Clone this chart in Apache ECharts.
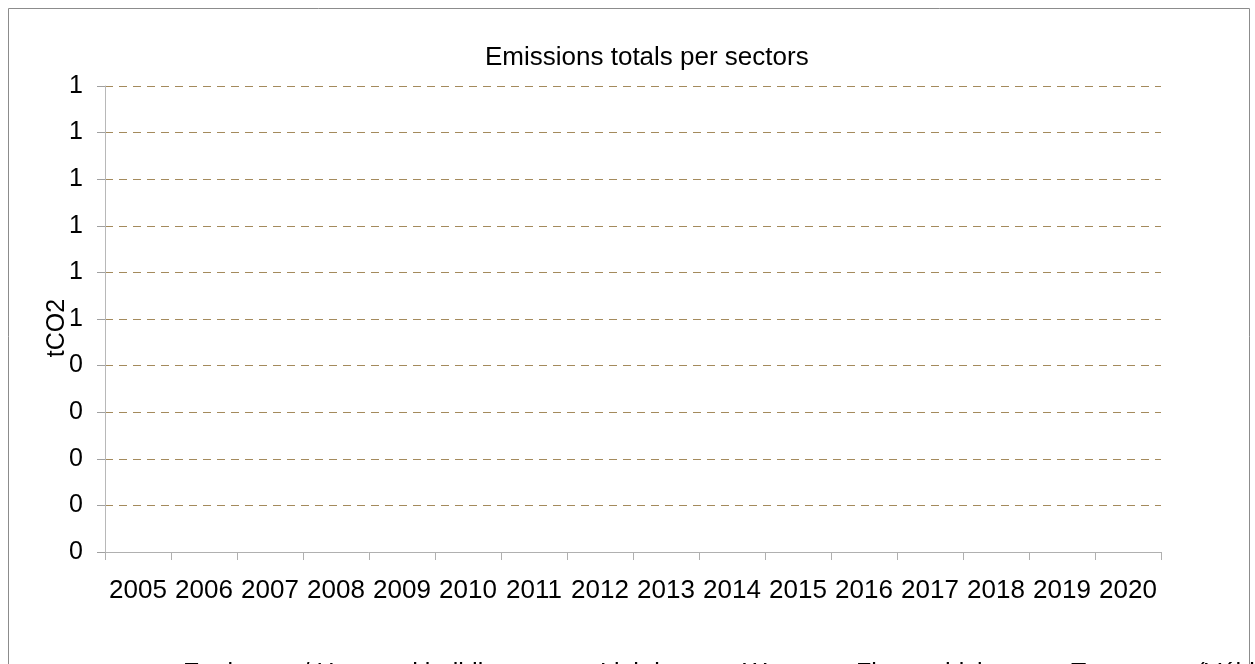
<!DOCTYPE html>
<html>
<head>
<meta charset="utf-8">
<script src="https://cdn.jsdelivr.net/npm/echarts@6/dist/echarts.min.js"></script>
<style>
html,body{margin:0;padding:0;background:#fff;}
#chart{width:1255px;height:664px;}
</style>
</head>
<body>
<div id="chart"></div>
<script>
const years = ['2005','2006','2007','2008','2009','2010','2011','2012','2013','2014','2015','2016','2017','2018','2019','2020'];
const seriesNames = ['Equipment/ Heat and buildings', 'Lighting', 'Waste', 'Fleet vehicles', 'Transports (Véhicules)'];
const equipmentHeat = [null,null,null,null,null,null,null,null,null,null,null,null,null,null,null,null];
const lighting = [null,null,null,null,null,null,null,null,null,null,null,null,null,null,null,null];
const waste = [null,null,null,null,null,null,null,null,null,null,null,null,null,null,null,null];
const fleet = [null,null,null,null,null,null,null,null,null,null,null,null,null,null,null,null];
const transports = [null,null,null,null,null,null,null,null,null,null,null,null,null,null,null,null];
const seriesValues = [equipmentHeat, lighting, waste, fleet, transports];
const colors = ['#4F81BD','#C0504D','#9BBB59','#8064A2','#4BACC6'];
const legendLefts = [165, 582, 725, 838, 1053];

const FONT = '"Liberation Sans", Arial, sans-serif';
const chart = echarts.init(document.getElementById('chart'), null, {renderer:'canvas'});

const legends = seriesNames.map((n, i) => ({
  data: [n],
  left: legendLefts[i],
  top: 657,
  icon: 'rect',
  itemWidth: 8,
  itemHeight: 6,
  itemGap: 6,
  textStyle: {fontFamily: FONT, fontSize: 25, color: '#000'},
  selectedMode: false
}));

chart.setOption({
  animation: false,
  backgroundColor: '#fff',
  color: colors,
  title: {
    text: 'Emissions totals per sectors',
    left: 480,
    top: 40,
    textStyle: {fontFamily: FONT, fontSize: 26, fontWeight: 'normal', color: '#000'}
  },
  legend: legends,
  grid: {left: 105, right: 94, top: 86, bottom: 112, containLabel: false},
  xAxis: {
    type: 'category',
    data: years,
    boundaryGap: true,
    axisLine: {show: true, lineStyle: {color: '#b0b0b0', width: 1}},
    axisTick: {show: true, length: 8, lineStyle: {color: '#b0b0b0'}},
    axisLabel: {fontFamily: FONT, fontSize: 26, color: '#000', margin: 26, interval: 0},
    splitLine: {show: false}
  },
  yAxis: {
    type: 'value',
    min: 0,
    max: 1,
    interval: 0.1,
    name: 'tCO2',
    nameLocation: 'middle',
    nameGap: 35,
    nameMoveOverlap: false,
    nameRotate: 90,
    nameTextStyle: {fontFamily: FONT, fontSize: 25, color: '#000', padding: [0, 18, 0, 0]},
    axisLine: {show: true, lineStyle: {color: '#b8b8b8', width: 1}},
    axisTick: {show: true, length: 8, lineStyle: {color: '#a0a0a0'}},
    axisLabel: {
      fontFamily: FONT, fontSize: 25, color: '#000', margin: 22,
      formatter: v => String(Math.round(v))
    },
    splitLine: {show: true, lineStyle: {color: '#a48a5c', width: 1, type: [8, 6]}}
  },
  graphic: [{
    type: 'rect',
    shape: {x: 8.5, y: 8.5, width: 1241, height: 700},
    style: {fill: 'none', stroke: '#8c8c8c', lineWidth: 1},
    silent: true,
    z: -1
  }],
  series: seriesNames.map((n, i) => ({
    name: n,
    type: 'bar',
    stack: 'total',
    data: seriesValues[i]
  }))
});
</script>
</body>
</html>
